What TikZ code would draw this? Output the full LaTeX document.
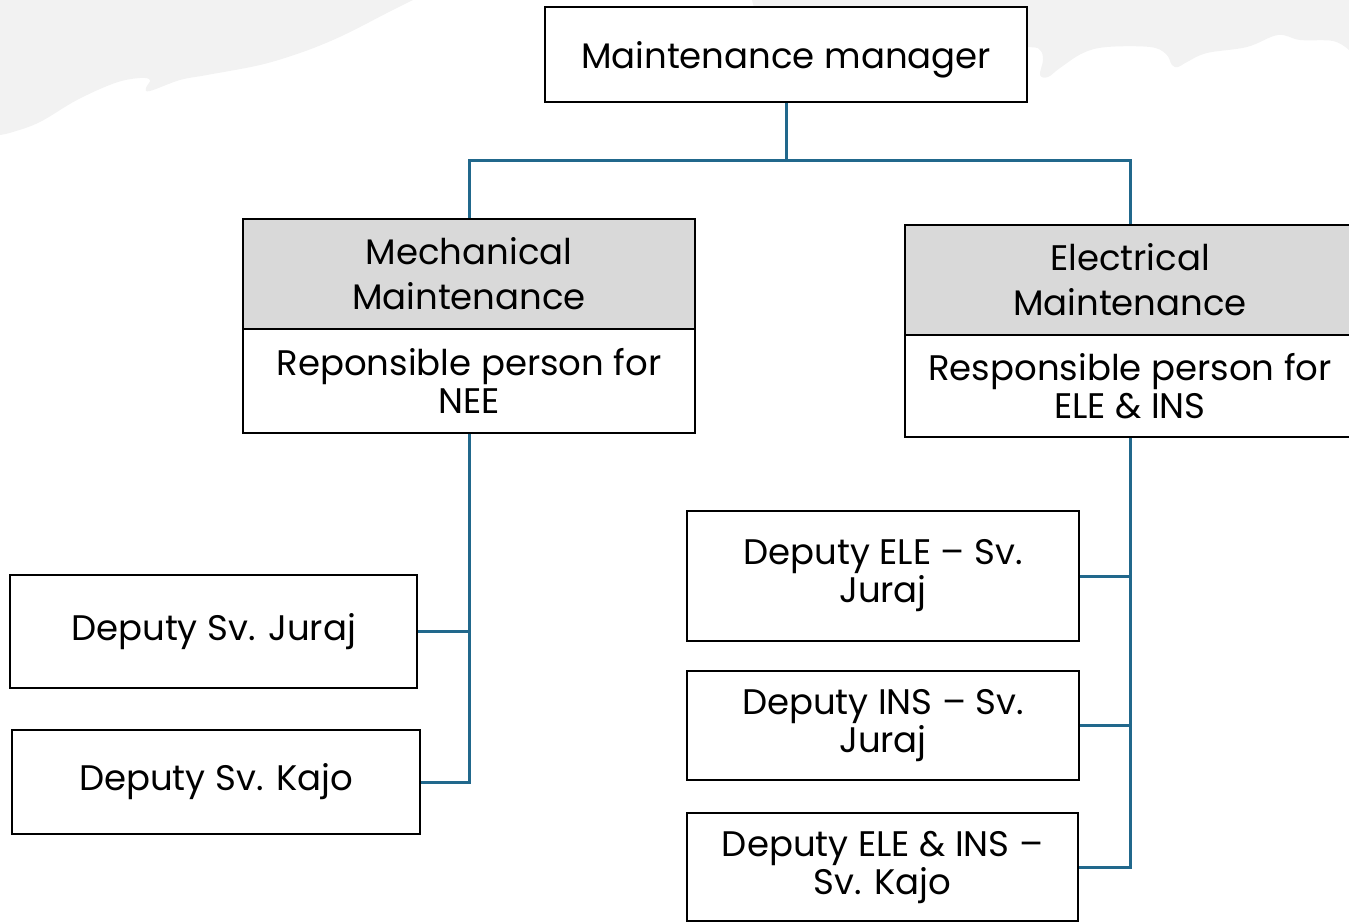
\documentclass[tikz,border=0pt]{standalone}
\usepackage{fontspec}
\setmainfont{Poppins}
\definecolor{linkblue}{HTML}{21688C}
\definecolor{blobgrey}{HTML}{F2F2F2}
\definecolor{headgrey}{HTML}{D9D9D9}

\begin{document}
\begin{tikzpicture}[x=1pt, y=-1pt,
  box/.style={draw=black, line width=1.6pt, fill=white, inner sep=0pt, align=center, font=\fontsize{35.5}{38}\selectfont},
  headbox/.style={box, fill=headgrey, font=\fontsize{35.5}{45}\selectfont},
  link/.style={draw=linkblue, line width=3pt}]

\useasboundingbox (0,0) rectangle (1349,921);
\clip (0,0) rectangle (1349,921);

% Background
\fill[blobgrey] plot[smooth, tension=0.6] coordinates {(413,0) (385,14) (360,27) (333,40) (300,53) (260,65) (207,75) (180,80) (150,91) (146,88) (150,80) (140,78) (115,83) (77,100) (40,122) (13,132) (0,135)} -- (0,0) -- cycle;
\fill[blobgrey] plot[smooth, tension=0.6] coordinates {(752,0) (758,12) (777,9) (795,15) (805,43) (880,40) (930,22) (955,30) (965,45) (1028,47) (1040,50) (1043,60) (1040,75) (1048,77) (1060,68) (1083,53) (1107,47) (1150,47) (1166,54) (1172,65) (1178,67) (1187,62) (1207,53) (1247,47) (1278,35) (1300,40) (1333,41) (1349,50)} -- (1349,0) -- cycle;

% Manager
\node[box, minimum width=482pt, minimum height=95pt, text depth=0pt] (mgr) at (786,54.5) {Maintenance manager};

% Mechanical maintenance
\node[headbox, minimum width=452pt, minimum height=110pt] (mechhead) at (469,274) {Mechanical\\Maintenance};
\node[box, minimum width=452pt, minimum height=104pt] (mechbody) at (469,381) {Reponsible person for\\NEE};

\node[box, minimum width=407pt, minimum height=113pt] (mechjuraj) at (213.5,631.5) {Deputy Sv. Juraj};
\node[box, minimum width=408pt, minimum height=104pt] (mechkajo) at (216,782) {Deputy Sv. Kajo};

% Electrical maintenance
\node[headbox, minimum width=450pt, minimum height=110pt] (elehead) at (1130,280) {Electrical\\Maintenance};
\node[box, minimum width=450pt, minimum height=102pt] (elebody) at (1130,386) {Responsible person for\\ELE \& INS};

\node[box, minimum width=392pt, minimum height=130pt] (elejuraj) at (883,576) {Deputy ELE – Sv.\\Juraj};
\node[box, minimum width=392pt, minimum height=109pt] (insjuraj) at (883,725.5) {Deputy INS – Sv.\\Juraj};
\node[box, minimum width=391pt, minimum height=108pt] (elekajo) at (882.5,867) {Deputy ELE \& INS –\\Sv. Kajo};

% Links
\coordinate (split) at (786,160);
\draw[link] (mgr.south) -- (split) -| (mechhead.north);
\draw[link] (split) -| (elehead.north);

\draw[link] (mechbody.south) |- (mechkajo.east);
\draw[link] (mechbody.south |- mechjuraj.east) -- (mechjuraj.east);

\draw[link] (elebody.south) |- (elekajo.east);
\draw[link] (elebody.south |- elejuraj.east) -- (elejuraj.east);
\draw[link] (elebody.south |- insjuraj.east) -- (insjuraj.east);
\end{tikzpicture}
\end{document}
